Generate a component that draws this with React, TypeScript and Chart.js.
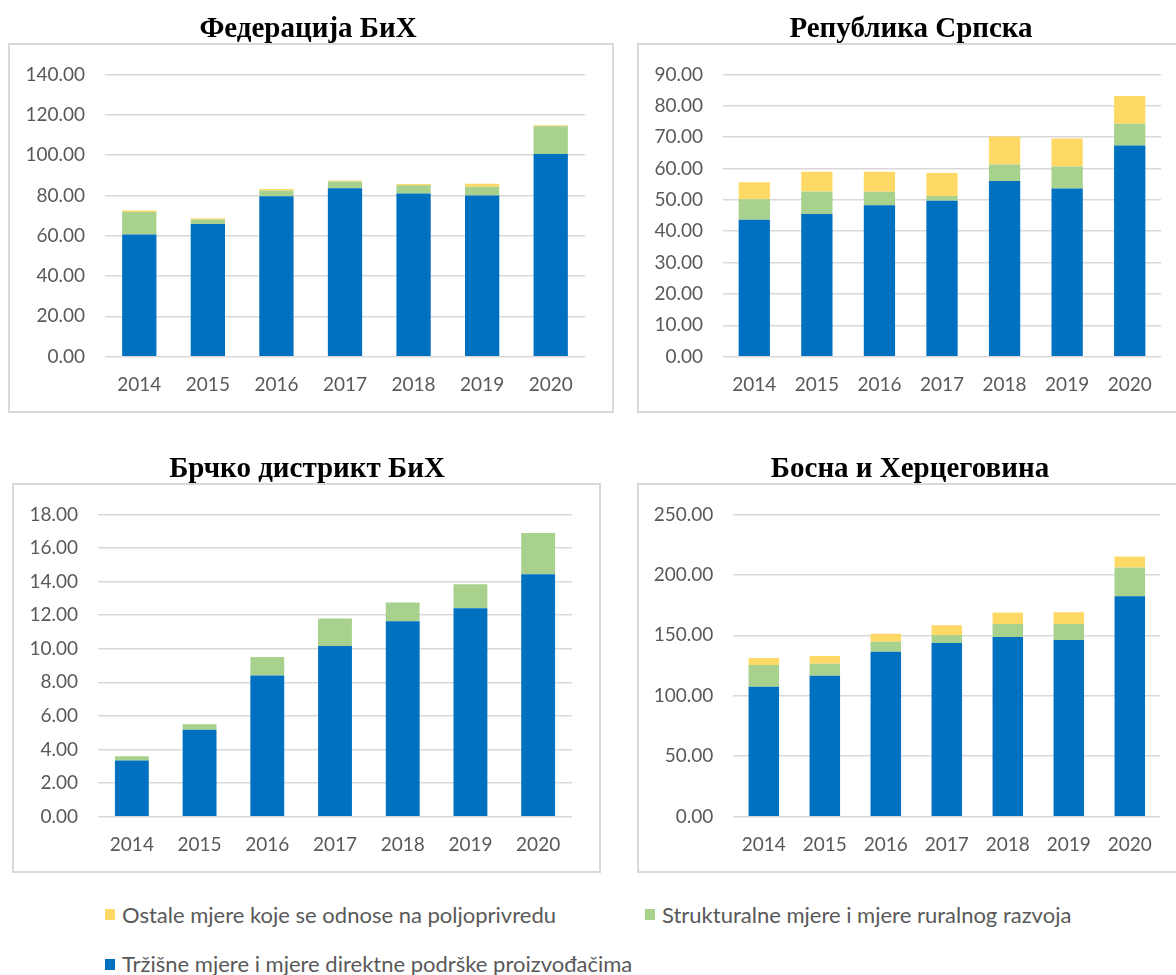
import React, { useEffect, useRef } from "react";
import { Chart, registerables } from "chart.js";

Chart.register(...registerables);

const years = ["2014", "2015", "2016", "2017", "2018", "2019", "2020"];

const seriesNames = [
  "Tržišne mjere i mjere direktne podrške proizvođačima",
  "Strukturalne mjere i mjere ruralnog razvoja",
  "Ostale mjere koje se odnose na poljoprivredu",
];

// Федерација БиХ
const fbihBlue = [60.6, 65.8, 79.6, 83.5, 80.9, 79.9, 100.5];
const fbihGreen = [11.1, 2.2, 2.8, 3.4, 4.1, 4.4, 13.8];
const fbihYellow = [0.8, 0.6, 0.8, 0.5, 0.7, 1.5, 0.5];

// Република Српска
const rsBlue = [43.7, 45.5, 48.3, 49.7, 56.0, 53.6, 67.3];
const rsGreen = [6.5, 7.2, 4.3, 1.5, 5.3, 7.0, 7.0];
const rsYellow = [5.4, 6.3, 6.4, 7.4, 8.9, 9.0, 8.8];

// Брчко дистрикт БиХ
const bdBlue = [3.35, 5.17, 8.41, 10.16, 11.64, 12.41, 14.43];
const bdGreen = [0.25, 0.34, 1.1, 1.64, 1.11, 1.43, 2.46];
const bdYellow = [0, 0, 0, 0, 0, 0, 0];

// Босна и Херцеговина
const bihBlue = [107.5, 116.5, 136.5, 143.6, 148.6, 146.1, 182.3];
const bihGreen = [18.0, 9.9, 8.2, 6.6, 10.7, 13.2, 23.8];
const bihYellow = [5.8, 6.5, 6.6, 8.2, 9.6, 9.8, 9.1];

const COLORS = { blue: "#0070C0", green: "#A9D18E", yellow: "#FFD966" };
const GRID = "#D9D9D9";
const TICK = "#595959";
const TICK_FONT = "Lato";
const TICK_SIZE = 19;

type Panel = {
  title: string;
  blue: number[];
  green: number[];
  yellow: number[];
  max: number;
  step: number;
  box: { left: number; top: number; width: number; height: number };
  plot: { left: number; right: number; top: number; bottom: number };
  titleCenter: number;
  titleMid: number;
};

const panels: Panel[] = [
  {
    title: "Федерација БиХ",
    blue: fbihBlue, green: fbihGreen, yellow: fbihYellow,
    max: 140, step: 20,
    box: { left: 8, top: 43, width: 606, height: 370 },
    plot: { left: 105, right: 585, top: 71.7, bottom: 356.7 },
    titleCenter: 308, titleMid: 27,
  },
  {
    title: "Република Српска",
    blue: rsBlue, green: rsGreen, yellow: rsYellow,
    max: 90, step: 10,
    box: { left: 637, top: 43, width: 548, height: 370 },
    plot: { left: 723, right: 1161, top: 71.7, bottom: 356.7 },
    titleCenter: 911, titleMid: 27,
  },
  {
    title: "Брчко дистрикт БиХ",
    blue: bdBlue, green: bdGreen, yellow: bdYellow,
    max: 18, step: 2,
    box: { left: 12, top: 483, width: 589, height: 390 },
    plot: { left: 98, right: 572, top: 512.7, bottom: 816.7 },
    titleCenter: 307, titleMid: 467,
  },
  {
    title: "Босна и Херцеговина",
    blue: bihBlue, green: bihGreen, yellow: bihYellow,
    max: 250, step: 50,
    box: { left: 637, top: 483, width: 548, height: 390 },
    plot: { left: 733.3, right: 1160.3, top: 512.7, bottom: 816.7 },
    titleCenter: 910, titleMid: 467,
  },
];

function PanelChart({ p }: { p: Panel }) {
  const ref = useRef<HTMLCanvasElement | null>(null);
  useEffect(() => {
    if (!ref.current) return;
    const W = p.box.width;
    const H = p.box.height;
    const L = p.plot.left - p.box.left;
    const R = p.plot.right - p.box.left;
    const T = p.plot.top - p.box.top;
    const B = p.plot.bottom - p.box.top;
    const chart = new Chart(ref.current, {
      type: "bar",
      data: {
        labels: years,
        datasets: [
          { label: seriesNames[0], data: p.blue, backgroundColor: COLORS.blue, barPercentage: 0.5, categoryPercentage: 1 },
          { label: seriesNames[1], data: p.green, backgroundColor: COLORS.green, barPercentage: 0.5, categoryPercentage: 1 },
          { label: seriesNames[2], data: p.yellow, backgroundColor: COLORS.yellow, barPercentage: 0.5, categoryPercentage: 1 },
        ],
      },
      options: {
        responsive: false,
        animation: false,
        layout: { padding: { left: 0, right: W - R, top: T, bottom: 0 } },
        plugins: { legend: { display: false }, tooltip: { enabled: false }, title: { display: false } },
        scales: {
          x: {
            stacked: true,
            grid: { display: false, drawTicks: false },
            border: { display: false },
            ticks: { color: TICK, font: { family: TICK_FONT, size: TICK_SIZE }, padding: 17, maxRotation: 0 },
            afterFit: (s: any) => { s.height = H - B; },
          },
          y: {
            stacked: true,
            min: 0,
            max: p.max,
            grid: { color: GRID, lineWidth: 1.5, drawTicks: false },
            border: { display: false },
            ticks: {
              stepSize: p.step,
              color: TICK,
              font: { family: TICK_FONT, size: TICK_SIZE },
              padding: 20,
              callback: (v: any) => Number(v).toFixed(2),
            },
            afterFit: (s: any) => { s.width = L; },
          },
        },
      },
    });
    return () => chart.destroy();
  }, [p]);

  return (
    <>
      <div
        style={{
          position: "absolute",
          left: p.box.left,
          top: p.box.top,
          width: p.box.width,
          height: p.box.height,
          border: "2px solid #D9D9D9",
          boxSizing: "border-box",
        }}
      />
      <canvas
        ref={ref}
        width={p.box.width}
        height={p.box.height}
        style={{ position: "absolute", left: p.box.left, top: p.box.top, width: p.box.width, height: p.box.height }}
      />
      <div
        style={{
          position: "absolute",
          left: p.titleCenter - 250,
          width: 500,
          top: p.titleMid - 17,
          height: 34,
          textAlign: "center",
          fontFamily: "'Liberation Serif', 'Times New Roman', serif",
          fontWeight: "bold",
          fontSize: 29,
          lineHeight: "34px",
          color: "#000",
          whiteSpace: "nowrap",
        }}
      >
        {p.title}
      </div>
    </>
  );
}

const legendItems = [
  { name: seriesNames[2], color: COLORS.yellow, sq: { left: 105, top: 909 }, text: { left: 122, center: 915 } },
  { name: seriesNames[1], color: COLORS.green, sq: { left: 645, top: 909 }, text: { left: 662, center: 915 } },
  { name: seriesNames[0], color: COLORS.blue, sq: { left: 105, top: 959 }, text: { left: 122, center: 964 } },
];

export default function App() {
  return (
    <div
      style={{
        position: "fixed",
        left: 0,
        top: 0,
        width: 1176,
        height: 975,
        overflow: "hidden",
        background: "#fff",
      }}
    >
      {panels.map((p) => (
        <PanelChart key={p.title} p={p} />
      ))}
      {legendItems.map((it) => (
        <React.Fragment key={it.name}>
          <div
            style={{
              position: "absolute",
              left: it.sq.left,
              top: it.sq.top,
              width: 10,
              height: 11,
              background: it.color,
            }}
          />
          <div
            style={{
              position: "absolute",
              left: it.text.left,
              top: it.text.center - 13,
              height: 26,
              lineHeight: "26px",
              fontFamily: "Lato, sans-serif",
              fontSize: 22,
              color: "#595959",
              whiteSpace: "nowrap",
            }}
          >
            {it.name}
          </div>
        </React.Fragment>
      ))}
    </div>
  );
}
